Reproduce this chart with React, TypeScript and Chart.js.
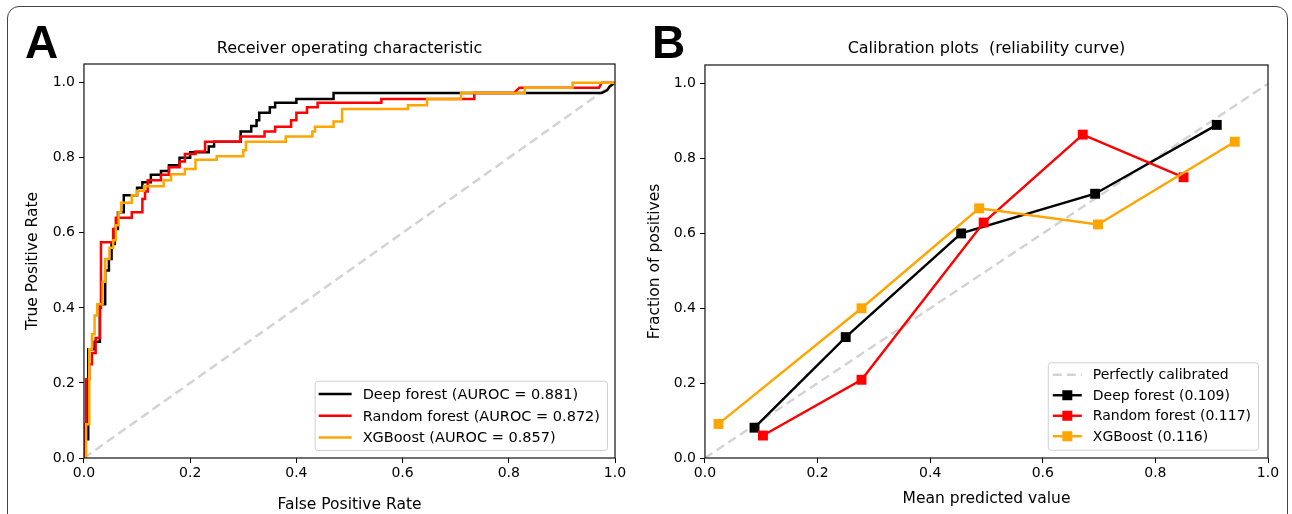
import React, { useEffect, useRef } from "react";
import { Chart, registerables } from "chart.js";

Chart.register(...registerables);

const FONT = "'DejaVu Sans', sans-serif";

// ---------- Panel A: ROC curves (step vertices) ----------
const dfFpr = [0, 0, 0.008, 0.008, 0.02, 0.02, 0.03, 0.03, 0.04, 0.04, 0.047, 0.047, 0.052, 0.052, 0.058, 0.058, 0.064, 0.064, 0.075, 0.075, 0.1, 0.1, 0.11, 0.11, 0.126, 0.126, 0.145, 0.145, 0.16, 0.16, 0.18, 0.18, 0.2, 0.2, 0.235, 0.235, 0.245, 0.245, 0.295, 0.295, 0.315, 0.315, 0.325, 0.325, 0.33, 0.33, 0.35, 0.35, 0.36, 0.36, 0.4, 0.4, 0.47, 0.47, 0.975, 0.985, 0.99, 1.0];
const dfTpr = [0, 0.05, 0.05, 0.29, 0.29, 0.31, 0.31, 0.41, 0.41, 0.5, 0.5, 0.53, 0.53, 0.57, 0.57, 0.61, 0.61, 0.655, 0.655, 0.7, 0.7, 0.72, 0.72, 0.735, 0.735, 0.755, 0.755, 0.765, 0.765, 0.78, 0.78, 0.8, 0.8, 0.815, 0.815, 0.83, 0.83, 0.843, 0.843, 0.87, 0.87, 0.885, 0.885, 0.9, 0.9, 0.92, 0.92, 0.935, 0.935, 0.947, 0.947, 0.957, 0.957, 0.973, 0.973, 0.98, 0.99, 1.0];

const rfFpr = [0, 0, 0.004, 0.004, 0.01, 0.01, 0.015, 0.015, 0.022, 0.022, 0.03, 0.03, 0.032, 0.032, 0.055, 0.055, 0.06, 0.06, 0.09, 0.09, 0.11, 0.11, 0.115, 0.115, 0.12, 0.12, 0.145, 0.145, 0.16, 0.16, 0.18, 0.18, 0.19, 0.19, 0.21, 0.21, 0.228, 0.228, 0.294, 0.294, 0.34, 0.34, 0.36, 0.36, 0.39, 0.39, 0.4, 0.4, 0.42, 0.42, 0.44, 0.44, 0.56, 0.56, 0.735, 0.735, 0.81, 0.82, 0.97, 0.975, 1.0];
const rfTpr = [0, 0.09, 0.09, 0.21, 0.21, 0.25, 0.25, 0.28, 0.28, 0.32, 0.32, 0.4, 0.4, 0.575, 0.575, 0.61, 0.61, 0.64, 0.64, 0.655, 0.655, 0.69, 0.69, 0.71, 0.71, 0.74, 0.74, 0.755, 0.755, 0.775, 0.775, 0.79, 0.79, 0.81, 0.81, 0.817, 0.817, 0.843, 0.843, 0.857, 0.857, 0.87, 0.87, 0.883, 0.883, 0.9, 0.9, 0.92, 0.92, 0.935, 0.935, 0.947, 0.947, 0.957, 0.957, 0.973, 0.973, 0.987, 0.987, 1.0, 1.0];

const xgbFpr = [0, 0.004, 0.004, 0.01, 0.01, 0.015, 0.015, 0.02, 0.02, 0.025, 0.025, 0.035, 0.035, 0.04, 0.04, 0.048, 0.048, 0.055, 0.055, 0.06, 0.06, 0.065, 0.065, 0.07, 0.07, 0.09, 0.09, 0.1, 0.1, 0.113, 0.113, 0.15, 0.15, 0.164, 0.164, 0.19, 0.19, 0.21, 0.21, 0.25, 0.25, 0.3, 0.3, 0.305, 0.305, 0.38, 0.38, 0.43, 0.43, 0.435, 0.435, 0.47, 0.47, 0.486, 0.486, 0.61, 0.61, 0.646, 0.646, 0.71, 0.71, 0.83, 0.83, 0.92, 0.92, 1.0];
const xgbTpr = [0, 0, 0.09, 0.09, 0.29, 0.29, 0.33, 0.33, 0.38, 0.38, 0.41, 0.41, 0.47, 0.47, 0.53, 0.53, 0.56, 0.56, 0.58, 0.58, 0.62, 0.62, 0.655, 0.655, 0.68, 0.68, 0.7, 0.7, 0.712, 0.712, 0.724, 0.724, 0.74, 0.74, 0.756, 0.756, 0.77, 0.77, 0.795, 0.795, 0.804, 0.804, 0.82, 0.82, 0.843, 0.843, 0.857, 0.857, 0.87, 0.87, 0.883, 0.883, 0.897, 0.897, 0.93, 0.93, 0.94, 0.94, 0.957, 0.957, 0.973, 0.973, 0.987, 0.987, 1.0, 1.0];

const diagX = [0, 1];
const diagY = [0, 1];

const rocTitle = "Receiver operating characteristic";
const rocLabels = [
  "Deep forest (AUROC = 0.881)",
  "Random forest (AUROC = 0.872)",
  "XGBoost (AUROC = 0.857)",
];

// ---------- Panel B: calibration (reliability) curves ----------
const dfMeanPred = [0.088, 0.25, 0.455, 0.693, 0.909];
const dfFracPos = [0.081, 0.323, 0.6, 0.706, 0.89];
const rfMeanPred = [0.103, 0.278, 0.495, 0.671, 0.85];
const rfFracPos = [0.06, 0.209, 0.629, 0.864, 0.75];
const xgbMeanPred = [0.024, 0.278, 0.487, 0.698, 0.941];
const xgbFracPos = [0.091, 0.4, 0.667, 0.624, 0.845];

const calTitle = "Calibration plots  (reliability curve)";
const calLabels = [
  "Perfectly calibrated",
  "Deep forest (0.109)",
  "Random forest (0.117)",
  "XGBoost (0.116)",
];

const tickValues = [0, 0.2, 0.4, 0.6, 0.8, 1.0];

const COLORS = { df: "#000000", rf: "#ff0000", xgb: "#ffa500", diag: "#d3d3d3" };

const zip = (xs: number[], ys: number[]) => xs.map((x, i) => ({ x, y: ys[i] }));

const framePlugin = {
  id: "frame",
  afterDatasetsDraw(chart: any) {
    const { ctx, chartArea: a } = chart;
    ctx.save();
    ctx.strokeStyle = "#111";
    ctx.lineWidth = 1.2;
    ctx.strokeRect(a.left, a.top, a.right - a.left, a.bottom - a.top);
    ctx.restore();
  },
};

const areaTitle = {
  id: "areaTitle",
  afterDraw(chart: any, _args: any, opts: any) {
    if (!opts || !opts.text) return;
    const { ctx, chartArea: a } = chart;
    ctx.save();
    ctx.font = `${opts.size}px ${FONT}`;
    ctx.fillStyle = "#000";
    ctx.textAlign = "center";
    ctx.textBaseline = "middle";
    ctx.fillText(opts.text, (a.left + a.right) / 2, opts.y);
    ctx.restore();
  },
};

const boxLegend = {
  id: "boxLegend",
  afterDraw(chart: any, _args: any, opts: any) {
    if (!opts || !opts.items) return;
    const { ctx, chartArea } = chart;
    const items: number[] = opts.items;
    ctx.save();
    ctx.font = `${opts.fontSize}px ${FONT}`;
    const texts = items.map((i) => chart.data.datasets[i].label as string);
    const maxW = Math.max(...texts.map((t) => ctx.measureText(t).width));
    const w = opts.padLeft + opts.handleLen + opts.handleGap + maxW + opts.padRight;
    const h = opts.padTop + items.length * opts.rowH + opts.padBottom;
    const x0 = chartArea.right - opts.insetRight - w;
    const y0 = chartArea.bottom - opts.insetBottom - h;
    ctx.beginPath();
    ctx.roundRect(x0 + 0.5, y0 + 0.5, w, h, 3);
    ctx.fillStyle = "rgba(255,255,255,0.85)";
    ctx.fill();
    ctx.strokeStyle = "#d0d0d0";
    ctx.lineWidth = 1;
    ctx.stroke();
    items.forEach((di, k) => {
      const ds = chart.data.datasets[di];
      const cy = y0 + opts.padTop + k * opts.rowH + opts.rowH / 2;
      const hx0 = x0 + opts.padLeft;
      const hx1 = hx0 + opts.handleLen;
      ctx.strokeStyle = ds.borderColor;
      ctx.lineWidth = ds.borderWidth;
      ctx.setLineDash(ds.borderDash || []);
      ctx.beginPath();
      ctx.moveTo(hx0, cy);
      ctx.lineTo(hx1, cy);
      ctx.stroke();
      ctx.setLineDash([]);
      if (ds.pointRadius > 0) {
        const s = opts.markerSize;
        ctx.fillStyle = ds.pointBackgroundColor;
        ctx.fillRect((hx0 + hx1) / 2 - s / 2, cy - s / 2, s, s);
      }
      ctx.fillStyle = "#000";
      ctx.textBaseline = "middle";
      ctx.textAlign = "left";
      ctx.fillText(ds.label, hx1 + opts.handleGap, cy + 1);
    });
    ctx.restore();
  },
};

function axis(title: string, max: number, tickFont: number, titleFont: number, titlePad: any, tickPad: number) {
  return {
    type: "linear",
    min: 0,
    max,
    afterBuildTicks: (s: any) => {
      s.ticks = tickValues.map((v) => ({ value: v }));
    },
    ticks: {
      callback: (v: any) => Number(v).toFixed(1),
      font: { family: FONT, size: tickFont },
      color: "#000",
      padding: tickPad,
      maxRotation: 0,
      autoSkip: false,
    },
    grid: { display: true, drawOnChartArea: false, drawTicks: true, tickLength: 5, color: "#000", lineWidth: 1 },
    border: { display: false },
    title: { display: true, text: title, font: { family: FONT, size: titleFont }, color: "#000", padding: titlePad },
  };
}

function rocConfig() {
  return {
    type: "scatter",
    data: {
      datasets: [
        { label: "", data: zip(diagX, diagY), borderColor: COLORS.diag, borderWidth: 2.5, borderDash: [9, 5], order: 4 },
        { label: rocLabels[0], data: zip(dfFpr, dfTpr), borderColor: COLORS.df, borderWidth: 2.5, order: 3 },
        { label: rocLabels[1], data: zip(rfFpr, rfTpr), borderColor: COLORS.rf, borderWidth: 2.5, order: 2 },
        { label: rocLabels[2], data: zip(xgbFpr, xgbTpr), borderColor: COLORS.xgb, borderWidth: 2.5, order: 1 },
      ].map((d: any) => ({ ...d, showLine: true, pointRadius: 0, tension: 0, fill: false })),
    },
    options: {
      responsive: false,
      animation: false,
      devicePixelRatio: 1,
      layout: { padding: { left: 0, right: 31, top: 64, bottom: 0 } },
      plugins: {
        legend: { display: false },
        tooltip: { enabled: false },
        title: { display: false },
        areaTitle: { text: rocTitle, size: 16, y: 49 },
        boxLegend: {
          items: [1, 2, 3],
          fontSize: 14.5,
          rowH: 21.7,
          padTop: 2.5,
          padBottom: 1.7,
          padLeft: 4,
          handleLen: 33,
          handleGap: 11,
          padRight: 7,
          insetRight: 8,
          insetBottom: 8,
          markerSize: 0,
        },
      },
      scales: {
        x: axis("False Positive Rate", 1, 14, 15.5, { top: 11.4, bottom: 0.2 }, 2),
        y: axis("True Positive Rate", 1.05, 14, 15.5, { top: 23.7, bottom: 6.4 }, 4),
      },
    },
    plugins: [framePlugin, areaTitle, boxLegend],
  };
}

function calConfig() {
  return {
    type: "scatter",
    data: {
      datasets: [
        { label: calLabels[0], data: zip(diagX, diagY), borderColor: COLORS.diag, borderWidth: 2.5, borderDash: [9, 5], pointRadius: 0, order: 4 },
        { label: calLabels[1], data: zip(dfMeanPred, dfFracPos), borderColor: COLORS.df, pointBackgroundColor: COLORS.df, order: 3 },
        { label: calLabels[2], data: zip(rfMeanPred, rfFracPos), borderColor: COLORS.rf, pointBackgroundColor: COLORS.rf, order: 2 },
        { label: calLabels[3], data: zip(xgbMeanPred, xgbFracPos), borderColor: COLORS.xgb, pointBackgroundColor: COLORS.xgb, order: 1 },
      ].map((d: any) => ({
        borderWidth: 2.4,
        pointRadius: 7,
        pointStyle: "rect",
        pointBorderWidth: 0,
        pointBorderColor: d.borderColor,
        ...d,
        showLine: true,
        tension: 0,
        fill: false,
      })),
    },
    options: {
      responsive: false,
      animation: false,
      devicePixelRatio: 1,
      layout: { padding: { left: 0, right: 24, top: 65, bottom: 0 } },
      plugins: {
        legend: { display: false },
        tooltip: { enabled: false },
        title: { display: false },
        areaTitle: { text: calTitle, size: 16, y: 49 },
        boxLegend: {
          items: [0, 1, 2, 3],
          fontSize: 14,
          rowH: 20.5,
          padTop: 2.2,
          padBottom: 3.2,
          padLeft: 5,
          handleLen: 29,
          handleGap: 11,
          padRight: 7,
          insetRight: 10,
          insetBottom: 8.3,
          markerSize: 10,
        },
      },
      scales: {
        x: axis("Mean predicted value", 1, 14, 15.5, { top: 5.4, bottom: 6.2 }, 2),
        y: axis("Fraction of positives", 1.05, 14, 15.5, { top: 19.7, bottom: 5.4 }, 4),
      },
    },
    plugins: [framePlugin, areaTitle, boxLegend],
  };
}

export default function App() {
  const rocRef = useRef<HTMLCanvasElement | null>(null);
  const calRef = useRef<HTMLCanvasElement | null>(null);

  useEffect(() => {
    const c1 = new Chart(rocRef.current as HTMLCanvasElement, rocConfig() as any);
    const c2 = new Chart(calRef.current as HTMLCanvasElement, calConfig() as any);
    return () => {
      c1.destroy();
      c2.destroy();
    };
  }, []);

  const letter: React.CSSProperties = {
    position: "absolute",
    top: 19,
    fontFamily: "'Liberation Sans', Arial, sans-serif",
    fontWeight: "bold",
    fontSize: 46,
    lineHeight: "46px",
    color: "#000",
  };

  return (
    <div style={{ position: "absolute", left: 0, top: 0, width: 1292, height: 514, overflow: "hidden", background: "#fff" }}>
      <div
        style={{
          position: "absolute",
          left: 7,
          top: 6,
          width: 1281,
          height: 600,
          border: "1.5px solid #444",
          borderRadius: 12,
          boxSizing: "border-box",
        }}
      />
      <canvas ref={rocRef} width={646} height={514} style={{ position: "absolute", left: 0, top: 0, width: 646, height: 514 }} />
      <canvas ref={calRef} width={666} height={514} style={{ position: "absolute", left: 626, top: 0, width: 666, height: 514 }} />
      <div style={{ ...letter, left: 25 }}>A</div>
      <div style={{ ...letter, left: 652 }}>B</div>
    </div>
  );
}
